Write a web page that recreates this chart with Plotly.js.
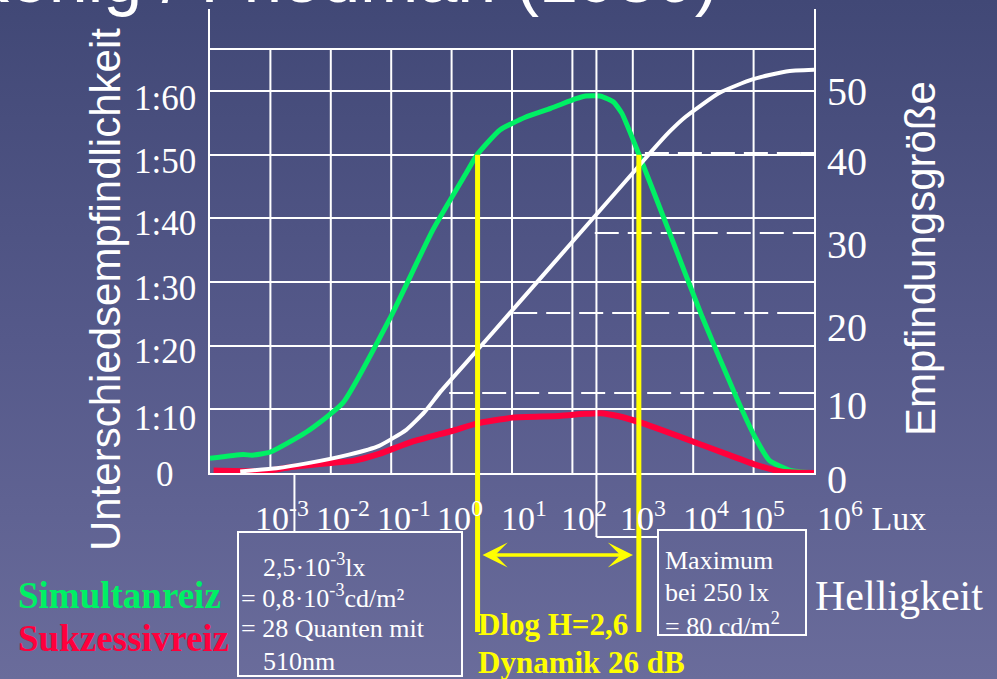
<!DOCTYPE html>
<html>
<head>
<meta charset="utf-8">
<script src="https://cdn.plot.ly/plotly-3.0.1.min.js"></script>
<style>
  html, body { margin:0; padding:0; width:997px; height:679px; overflow:hidden;
    background: linear-gradient(to bottom, #414876 0%, #55598a 50%, #6a6c9b 100%); }
  #chart { width:997px; height:679px; }
</style>
</head>
<body>
<div id="chart"></div>
<script>
// ---------- data (log10 Lux on x) ----------
const simultanX = [-4.0, -3.45, -3.3, -3.0, -2.41, -1.8, -1.01, -0.31, 0.24, 0.43, 0.8, 1.22, 1.64, 2.06, 2.2, 2.47, 2.68, 2.82, 3.1, 3.59, 4.15, 4.71, 5.02, 5.26, 5.61, 6.0];
const simultanY = [2.3, 2.9, 2.8, 3.3, 6.4, 11.0, 24.5, 38.2, 47.1, 50.1, 53.9, 55.9, 57.3, 58.8, 59.2, 59.2, 58.3, 56.5, 50.1, 38.2, 24.5, 12.0, 5.7, 2.0, 0.4, 0];

const sukzessivX = [-3.94, -3.1, -2.68, -1.96, -1.63, -1.2, -0.66, 0.0, 0.43, 1.01, 1.78, 2.2, 2.47, 2.75, 3.17, 4.15, 4.6, 5.05, 5.47, 6.0];
const sukzessivY = [0.4, 0.3, 0.9, 1.6, 1.9, 3.0, 4.9, 6.6, 7.8, 8.7, 8.95, 9.3, 9.4, 8.95, 7.8, 4.4, 2.8, 1.25, 0.2, 0];

const empfindungX = [-3.5, -2.9, -2.4, -1.7, -1.2, -0.75, -0.45, -0.18, 0.43, 1.0, 2.0, 3.0, 3.31, 3.6, 3.87, 4.43, 4.98, 5.54, 6.03];
const empfindungY = [0.2, 0.6, 1.2, 2.3, 3.4, 5.4, 7.6, 10.2, 15.4, 20.3, 28.9, 37.5, 40.2, 42.6, 44.5, 47.5, 49.2, 50.2, 50.4];

// axis ticks / labels
const xGrid = [-3, -2, -1, 0, 1, 2, 3, 4, 5];
const xLabels = ['10<sup>-3</sup>', '10<sup>-2</sup>', '10<sup>-1</sup>', '10<sup>0</sup>', '10<sup>1</sup>', '10<sup>2</sup>', '10<sup>3</sup>', '10<sup>4</sup>', '10<sup>5</sup>'];
const xLabelPos = [-2.81, -1.80, -0.79, 0.14, 1.2, 2.19, 3.17, 4.21, 5.14];
const xLastLabel = '10<sup>6</sup> Lux';
const xLastLabelPos = 6.02;

const leftTicks = [10, 20, 30, 40, 50, 60];
const leftLabels = ['0', '1:10', '1:20', '1:30', '1:40', '1:50', '1:60'];
const leftLabelPos = [-0.3, 8.5, 19.1, 29.0, 39.2, 48.9, 58.8];

const rightTicks = [10, 20, 30, 40];
const rightLabels = ['0', '10', '20', '30', '40', '50'];
const rightLabelPos = [-0.75, 8.5, 18.25, 28.5, 38.9, 47.75];

const dashLevels = [10, 20, 30, 40];
const dashStartX = [-0.04, 1.02, 2.37, 3.2];

const dynamikX = [0.43, 3.1];      // yellow lines (Dlog H = 2,6)
const dynamikLevel = 50;           // where they meet the green curve
const schwelleLux = 0.0025;        // 2,5·10^-3 lx
const maximumLux = 250;            // Maximum bei 250 lx
const topLine = 66.6;

// ---------- geometry ----------
const XMIN = -4, XMAX = 6, YMAX = 72.9, Y2MAX = 58;
const L = 210, R = 814, T = 9, B = 473;
const W = R - L, H = B - T;
const px = v => (v - L) / W;                 // pixel x -> paper
const py = v => (B - v) / H;                 // pixel y -> paper
const dx = v => (v - XMIN) / (XMAX - XMIN);  // data x -> paper
const dy = v => v / YMAX;                    // left y -> paper
const dy2 = v => v / Y2MAX;                  // right y -> paper

const SERIF = '"Liberation Serif", "Times New Roman", serif';
const SANS = '"Liberation Sans", Arial, sans-serif';
const GREEN = '#00f064', RED = '#ff003c', YEL = '#ffff00', WH = '#ffffff';

const traces = [
  { x: simultanX, y: simultanY, type: 'scatter', mode: 'lines', yaxis: 'y',
    line: { color: GREEN, width: 5, shape: 'spline', smoothing: 0.5 }, hoverinfo: 'skip' },
  { x: empfindungX, y: empfindungY, type: 'scatter', mode: 'lines', yaxis: 'y2',
    line: { color: WH, width: 4, shape: 'spline', smoothing: 0.5 }, hoverinfo: 'skip' },
  { x: sukzessivX, y: sukzessivY, type: 'scatter', mode: 'lines', yaxis: 'y',
    line: { color: RED, width: 6, shape: 'spline', smoothing: 0.5 }, hoverinfo: 'skip' }
];

const shapes = [];
// vertical grid lines (stop at top line)
xGrid.forEach(g => shapes.push({ type: 'line', xref: 'x', yref: 'y', x0: g, x1: g, y0: 0, y1: topLine,
  line: { color: WH, width: 2 }, layer: 'below' }));
// top line
shapes.push({ type: 'line', xref: 'paper', yref: 'y', x0: 0, x1: 1, y0: topLine, y1: topLine,
  line: { color: WH, width: 2 }, layer: 'below' });
// dashed levels on right axis
dashLevels.forEach((lv, i) => shapes.push({ type: 'line', xref: 'x', yref: 'y2', x0: dashStartX[i], x1: XMAX,
  y0: lv, y1: lv, line: { color: WH, width: 2, dash: '24px,9px' }, layer: 'below' }));
// maximum line 250 lx + connector to box
const mx = Math.log10(maximumLux);
shapes.push({ type: 'line', xref: 'x', yref: 'paper', x0: mx, x1: mx, y0: py(537), y1: dy(topLine),
  line: { color: WH, width: 2 }, layer: 'above' });
shapes.push({ type: 'line', xref: 'paper', yref: 'paper', x0: dx(mx), x1: px(658), y0: py(537), y1: py(537),
  line: { color: WH, width: 2 }, layer: 'above' });
// threshold connector
const sx = Math.log10(schwelleLux);
shapes.push({ type: 'line', xref: 'x', yref: 'paper', x0: sx, x1: sx, y0: py(532), y1: 0,
  line: { color: WH, width: 2 }, layer: 'above' });
// boxes
shapes.push({ type: 'rect', xref: 'paper', yref: 'paper', x0: px(238), x1: px(462), y0: py(676), y1: py(532),
  line: { color: WH, width: 2 }, layer: 'above' });
shapes.push({ type: 'rect', xref: 'paper', yref: 'paper', x0: px(658), x1: px(806), y0: py(635), y1: py(530),
  line: { color: WH, width: 2 }, layer: 'above' });
// yellow lines
dynamikX.forEach(v => shapes.push({ type: 'line', xref: 'x', yref: 'paper', x0: v, x1: v, y0: py(632), y1: dy(dynamikLevel),
  line: { color: YEL, width: 5 }, layer: 'above' }));

const ann = [];
const txt = (text, x, y, size, opts = {}) => Object.assign({
  text, x, y, xref: 'paper', yref: 'paper', showarrow: false,
  xanchor: 'center', yanchor: 'middle',
  font: { family: SERIF, size, color: WH }
}, opts);

// title (cut off at top)
ann.push(txt('nach König / Friedman (1930)', px(720), py(19), 70,
  { xanchor: 'right', yanchor: 'bottom', font: { family: SANS, size: 70, color: WH } }));
// axis titles
ann.push(txt('Unterschiedsempfindlichkeit', px(105), py(290), 42,
  { textangle: -90, font: { family: SANS, size: 42, color: WH } }));
ann.push(txt('Empfindungsgröße', px(920), py(258), 42,
  { textangle: -90, font: { family: SANS, size: 42, color: WH } }));
// left labels
leftLabels.forEach((t, i) => ann.push(txt(t, px(165), dy(leftLabelPos[i]), 35)));
// right labels
rightLabels.forEach((t, i) => ann.push(txt(t, px(825), dy2(rightLabelPos[i]), 40, { xanchor: 'left' })));
// x labels
xLabels.forEach((t, i) => ann.push(txt(t, dx(xLabelPos[i]), py(516), 34)));
ann.push(txt(xLastLabel, dx(xLastLabelPos), py(516), 34, { xanchor: 'left' }));
// Helligkeit
ann.push(txt('Helligkeit', px(813), py(596), 42, { xanchor: 'left' }));
// legend texts
ann.push(txt('<b>Simultanreiz</b>', px(16), py(595), 37, { xanchor: 'left', font: { family: SERIF, size: 37, color: GREEN } }));
ann.push(txt('<b>Sukzessivreiz</b>', px(16), py(638), 37, { xanchor: 'left', font: { family: SERIF, size: 37, color: RED } }));
// box 1
ann.push(txt('2,5·10<sup>-3</sup>lx', px(261), py(565), 26, { xanchor: 'left' }));
ann.push(txt('= 0,8·10<sup>-3</sup>cd/m²', px(239), py(596), 26, { xanchor: 'left' }));
ann.push(txt('= 28 Quanten mit', px(239), py(628), 26, { xanchor: 'left' }));
ann.push(txt('510nm', px(261), py(661), 26, { xanchor: 'left' }));
// box 2
ann.push(txt('Maximum', px(663), py(560), 26, { xanchor: 'left' }));
ann.push(txt('bei 250 lx', px(663), py(592), 26, { xanchor: 'left' }));
ann.push(txt('= 80 cd/m<sup>2</sup>', px(663), py(624), 26, { xanchor: 'left' }));
// Dynamik texts
ann.push(txt('<b>Dlog H=2,6</b>', px(476), py(624), 31, { xanchor: 'left', font: { family: SERIF, size: 31, color: YEL } }));
ann.push(txt('<b>Dynamik 26 dB</b>', px(476), py(662), 31, { xanchor: 'left', font: { family: SERIF, size: 31, color: YEL } }));
// double arrow
ann.push({ text: '', x: px(633), y: py(555), xref: 'paper', yref: 'paper', showarrow: true,
  ax: -(633 - 481), ay: 0, axref: 'pixel', ayref: 'pixel',
  arrowhead: 3, startarrowhead: 3, arrowside: 'end+start', arrowsize: 1.2, startarrowsize: 1.2,
  arrowwidth: 3.5, arrowcolor: YEL, standoff: 0, startstandoff: 0 });

const layout = {
  width: 997, height: 679,
  margin: { l: L, r: 997 - R, t: T, b: 679 - B, pad: 0 },
  paper_bgcolor: 'rgba(0,0,0,0)', plot_bgcolor: 'rgba(0,0,0,0)',
  showlegend: false,
  xaxis: { range: [XMIN, XMAX], showgrid: false, zeroline: false, showticklabels: false, ticks: '',
    showline: true, linecolor: WH, linewidth: 2, fixedrange: true },
  yaxis: { range: [0, YMAX], tickvals: leftTicks, showgrid: true, gridcolor: WH, gridwidth: 2,
    zeroline: false, showticklabels: false, ticks: '', showline: true, linecolor: WH, linewidth: 2, fixedrange: true },
  yaxis2: { range: [0, Y2MAX], overlaying: 'y', side: 'right', tickvals: rightTicks, showgrid: false,
    zeroline: false, showticklabels: false, ticks: 'inside', ticklen: 13, tickwidth: 2, tickcolor: WH,
    showline: true, linecolor: WH, linewidth: 2, fixedrange: true },
  shapes, annotations: ann
};

Plotly.newPlot('chart', traces, layout, { displayModeBar: false, staticPlot: true });
</script>
</body>
</html>
